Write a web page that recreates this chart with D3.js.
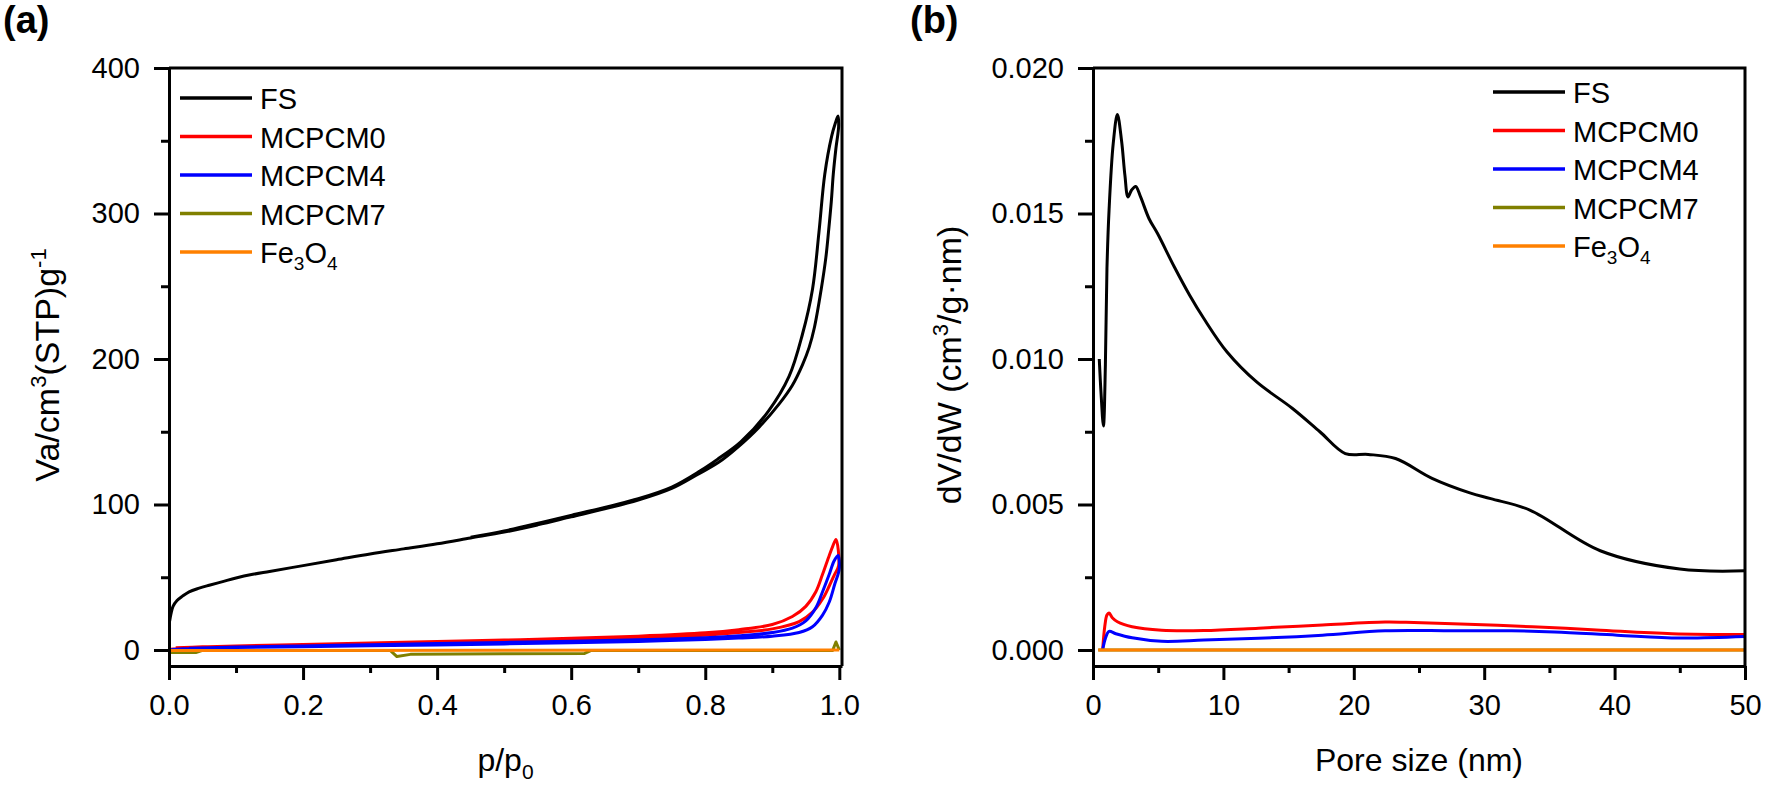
<!DOCTYPE html>
<html>
<head>
<meta charset="utf-8">
<script src="https://cdn.jsdelivr.net/npm/d3@7"></script>
<style>
  body { margin: 0; background: #fff; }
  svg { display: block; font-family: Arial, "Liberation Sans", sans-serif; }
</style>
</head>
<body>
<svg id="chart" width="1766" height="792"></svg>
<script>
var seriesNames = ["FS", "MCPCM0", "MCPCM4", "MCPCM7", "Fe3O4"];
var seriesColors = ["#000000", "#ff0000", "#0000ff", "#808000", "#ff8000"];

// (a) N2 isotherms, [p/p0, Va]; each loop is adsorption up then desorption down
var fsIsotherm = [
  [0.001, 20], [0.003, 25], [0.006, 30], [0.012, 34], [0.02, 37], [0.03, 40],
  [0.045, 42.5], [0.06, 44.5], [0.08, 47], [0.1, 49.5], [0.125, 52], [0.15, 54],
  [0.2, 58], [0.25, 62], [0.3, 66], [0.35, 69.5], [0.4, 73], [0.45, 77],
  [0.5, 81], [0.55, 86], [0.6, 91.5], [0.65, 97], [0.7, 103], [0.75, 111],
  [0.79, 121], [0.82, 129], [0.85, 140], [0.88, 153], [0.91, 169], [0.93, 182],
  [0.945, 196], [0.955, 208], [0.963, 222], [0.973, 248], [0.98, 270],
  [0.984, 288], [0.988, 308], [0.991, 327], [0.995, 345], [0.999, 360], [0.998, 367],
  [0.994, 362], [0.9885, 353], [0.9783, 327], [0.9696, 287], [0.96, 248],
  [0.945, 217], [0.925, 188], [0.894, 164], [0.853, 143], [0.818, 131],
  [0.792, 123], [0.75, 112], [0.7, 104], [0.6, 92.5], [0.5, 81.8], [0.45, 77.5]
];
var mcpcm0Isotherm = [
  [0, 0.3], [0.02, 1.2], [0.05, 1.7], [0.1, 2.3], [0.2, 3.2], [0.3, 4], [0.4, 4.8],
  [0.5, 5.7], [0.6, 6.8], [0.7, 8.2], [0.8, 10.2], [0.85, 12], [0.9, 14.5],
  [0.94, 19.5], [0.96, 26], [0.975, 35], [0.985, 44], [0.993, 52], [0.999, 58],
  [0.995, 76], [0.99, 71], [0.985, 65], [0.975, 52], [0.965, 40], [0.95, 30],
  [0.93, 23], [0.9, 17.5], [0.85, 14], [0.8, 11.8], [0.7, 9.5], [0.6, 8],
  [0.5, 6.8], [0.4, 5.8], [0.3, 4.8], [0.2, 3.8], [0.1, 2.8], [0.05, 2.2], [0.01, 1.5]
];
var mcpcm4Isotherm = [
  [0, 0], [0.02, 0.8], [0.05, 1.2], [0.1, 1.7], [0.2, 2.3], [0.3, 2.9], [0.4, 3.5],
  [0.5, 4.2], [0.6, 5], [0.7, 5.9], [0.8, 7.2], [0.85, 8.2], [0.9, 9.5],
  [0.94, 12], [0.96, 16], [0.975, 24], [0.985, 33], [0.993, 45], [1.0, 56],
  [0.998, 65], [0.992, 61], [0.985, 52], [0.975, 40], [0.965, 29], [0.95, 20],
  [0.93, 15], [0.9, 12], [0.85, 9.8], [0.8, 8.5], [0.7, 7], [0.6, 6], [0.5, 5.2],
  [0.4, 4.4], [0.3, 3.6], [0.2, 2.8], [0.1, 2], [0.03, 1.2]
];
var mcpcm7Isotherm = [
  [0, -1.8], [0.04, -1.8], [0.05, -0.3], [0.33, -0.3], [0.34, -4.5], [0.36, -3],
  [0.5, -2.6], [0.62, -2.4], [0.63, -0.3], [0.99, -0.3], [0.995, 5.5], [1.0, 0]
];
var fe3o4Isotherm = [[0, -0.3], [0.5, -0.2], [1.0, 0]];

// (b) pore size distribution, [pore size nm, dV/dW]
var fsPsd = [
  [0.48, 0.0100], [0.62, 0.0088], [0.8, 0.0077], [0.95, 0.0098], [1.07, 0.0131],
  [1.23, 0.0151], [1.55, 0.0174], [1.87, 0.0184], [2.19, 0.0175], [2.45, 0.0163],
  [2.68, 0.01557], [2.95, 0.0158], [3.27, 0.01593], [3.65, 0.01557], [4.3, 0.01482],
  [4.95, 0.01431], [6.24, 0.01316], [7.4, 0.0122], [8.5, 0.01139], [10.28, 0.01024],
  [12.55, 0.00921], [15.3, 0.0083], [17.4, 0.0075], [19.35, 0.00675], [21.1, 0.00672],
  [23.2, 0.00658], [26.0, 0.0059], [28.9, 0.0054], [30.5, 0.0052], [33.5, 0.00481],
  [38.9, 0.00341], [45.0, 0.00278], [50, 0.00272]
];
var mcpcm0Psd = [
  [0.74, 0], [0.9, 0.0008], [1.07, 0.0012], [1.23, 0.00127], [1.5, 0.0011],
  [1.87, 0.00097], [3.0, 0.0008], [5.27, 0.00068], [8.5, 0.00067], [12.7, 0.00075],
  [17.6, 0.00086], [22.4, 0.00096], [24, 0.00095], [27.6, 0.0009], [33.7, 0.0008],
  [38.6, 0.00069], [44.4, 0.00056], [50, 0.00053]
];
var mcpcm4Psd = [
  [0.74, 0], [0.95, 0.0004], [1.23, 0.00064], [1.75, 0.00056], [3.0, 0.00042],
  [5.27, 0.0003], [8.5, 0.00034], [12.7, 0.0004], [17.6, 0.00051], [22.4, 0.00066],
  [27.6, 0.00066], [32.1, 0.00066], [35.4, 0.00062], [40.2, 0.00051], [45, 0.00041],
  [50, 0.00046]
];
var mcpcm7Psd = [[0.4, 0], [50, 0]];
var fe3o4Psd = [[0.4, 0], [50, 0]];

var isoTicks = [0.0, 0.2, 0.4, 0.6, 0.8, 1.0];
var isoMinor = [0.1, 0.3, 0.5, 0.7, 0.9];
var vaTicks = [0, 100, 200, 300, 400];
var vaMinor = [50, 150, 250, 350];
var poreTicks = [0, 10, 20, 30, 40, 50];
var poreMinor = [5, 15, 25, 35, 45];
var dvTicks = [0, 0.005, 0.010, 0.015, 0.020];
var dvMinor = [0.0025, 0.0075, 0.0125, 0.0175];

var svg = d3.select("#chart");
svg.append("rect").attr("width", 1766).attr("height", 792).attr("fill", "#fff");

drawPanel({
  id: "a", tag: "(a)", tagX: 3,
  left: 169, right: 842, top: 68, bottom: 666,
  xDomain: [0, 1.004], yDomain: [-11, 400],
  xTicks: isoTicks, xMinor: isoMinor, yTicks: vaTicks, yMinor: vaMinor,
  xFormat: d3.format(".1f"), yFormat: d3.format("d"),
  series: [fsIsotherm, mcpcm0Isotherm, mcpcm4Isotherm, mcpcm7Isotherm, fe3o4Isotherm],
  legendX: 180, legendY: 98,
  yTitleX: 59, xTitle: "p/p0"
});

drawPanel({
  id: "b", tag: "(b)", tagX: 910,
  left: 1093, right: 1745, top: 68, bottom: 666,
  xDomain: [0, 50], yDomain: [-0.00055, 0.020],
  xTicks: poreTicks, xMinor: poreMinor, yTicks: dvTicks, yMinor: dvMinor,
  xFormat: d3.format("d"), yFormat: d3.format(".3f"),
  series: [fsPsd, mcpcm0Psd, mcpcm4Psd, mcpcm7Psd, fe3o4Psd],
  legendX: 1493, legendY: 92,
  yTitleX: 961, xTitle: "Pore size (nm)"
});

/*
 * Draws one framed panel with axes, curves and legend.
 */
function drawPanel(p) {
  var x = d3.scaleLinear().domain(p.xDomain).range([p.left, p.right]);
  var y = d3.scaleLinear().domain(p.yDomain).range([p.bottom, p.top]);
  var g = svg.append("g");

  g.append("clipPath").attr("id", "clip-" + p.id)
    .append("rect")
    .attr("x", p.left).attr("y", p.top)
    .attr("width", p.right - p.left).attr("height", p.bottom - p.top);

  var smooth = d3.line()
    .x(d => x(d[0]))
    .y(d => y(d[1]))
    .curve(d3.curveCatmullRom.alpha(0.5));
  var straight = d3.line()
    .x(d => x(d[0]))
    .y(d => y(d[1]));

  g.append("g")
    .attr("clip-path", "url(#clip-" + p.id + ")")
    .selectAll("path")
    .data(p.series)
    .enter()
    .append("path")
    .attr("d", (d, i) => (i < 3 ? smooth(d) : straight(d)))
    .attr("fill", "none")
    .attr("stroke", (d, i) => seriesColors[i])
    .attr("stroke-width", 3)
    .attr("stroke-linejoin", "round");

  // axes, major then minor
  var xAxis = g.append("g")
    .attr("transform", "translate(0," + p.bottom + ")")
    .call(d3.axisBottom(x).tickValues(p.xTicks).tickSize(14).tickPadding(14)
      .tickSizeOuter(0).tickFormat(p.xFormat));
  g.append("g")
    .attr("transform", "translate(0," + p.bottom + ")")
    .call(d3.axisBottom(x).tickValues(p.xMinor).tickSize(7).tickFormat(""))
    .call(s => s.select(".domain").remove());
  var yAxis = g.append("g")
    .attr("transform", "translate(" + p.left + ",0)")
    .call(d3.axisLeft(y).tickValues(p.yTicks).tickSize(15).tickPadding(14)
      .tickSizeOuter(0).tickFormat(p.yFormat));
  g.append("g")
    .attr("transform", "translate(" + p.left + ",0)")
    .call(d3.axisLeft(y).tickValues(p.yMinor).tickSize(8).tickFormat(""))
    .call(s => s.select(".domain").remove());

  g.selectAll(".domain, .tick line").attr("stroke", "#000").attr("stroke-width", 3);
  [xAxis, yAxis].forEach(function (a) {
    a.attr("font-size", 29).attr("font-family", "Arial, 'Liberation Sans', sans-serif");
    a.selectAll("text").attr("fill", "#000");
  });

  // top and right edges of the frame
  g.append("path")
    .attr("d", "M" + p.left + "," + p.top + "H" + p.right + "V" + p.bottom)
    .attr("fill", "none")
    .attr("stroke", "#000")
    .attr("stroke-width", 3);

  // legend
  var leg = g.append("g").selectAll("g")
    .data(seriesNames)
    .enter()
    .append("g")
    .attr("transform", (d, i) => "translate(" + p.legendX + "," + (p.legendY + i * 38.5) + ")");
  leg.append("line")
    .attr("x1", 0).attr("x2", 72)
    .attr("stroke", (d, i) => seriesColors[i])
    .attr("stroke-width", 3.5);
  leg.append("text")
    .attr("x", 80).attr("y", 11)
    .attr("font-size", 29)
    .each(function (d) {
      var t = d3.select(this);
      if (d === "Fe3O4") {
        t.append("tspan").text("Fe");
        t.append("tspan").text("3").attr("font-size", 19).attr("dy", 7);
        t.append("tspan").text("O").attr("dy", -7);
        t.append("tspan").text("4").attr("font-size", 19).attr("dy", 7);
      } else {
        t.text(d);
      }
    });

  // titles
  g.append("text")
    .attr("x", p.tagX).attr("y", 33)
    .attr("font-size", 38).attr("font-weight", "bold")
    .text(p.tag);

  var xt = g.append("text")
    .attr("x", (p.left + p.right) / 2).attr("y", 771)
    .attr("text-anchor", "middle")
    .attr("font-size", 32);
  if (p.id === "a") {
    xt.append("tspan").text("p/p");
    xt.append("tspan").text("0").attr("font-size", 21).attr("dy", 8);
  } else {
    xt.text(p.xTitle);
  }

  var yt = g.append("text")
    .attr("transform", "translate(" + p.yTitleX + "," + ((p.top + p.bottom) / 2 - 2) + ") rotate(-90)")
    .attr("text-anchor", "middle")
    .attr("font-size", 34);
  if (p.id === "a") {
    yt.append("tspan").text("Va/cm");
    yt.append("tspan").text("3").attr("font-size", 22).attr("dy", -13);
    yt.append("tspan").text("(STP)g").attr("dy", 13);
    yt.append("tspan").text("-1").attr("font-size", 22).attr("dy", -13);
  } else {
    yt.append("tspan").text("dV/dW (cm");
    yt.append("tspan").text("3").attr("font-size", 22).attr("dy", -13);
    yt.append("tspan").text("/g\u00b7nm)").attr("dy", 13);
  }
}
</script>
</body>
</html>
